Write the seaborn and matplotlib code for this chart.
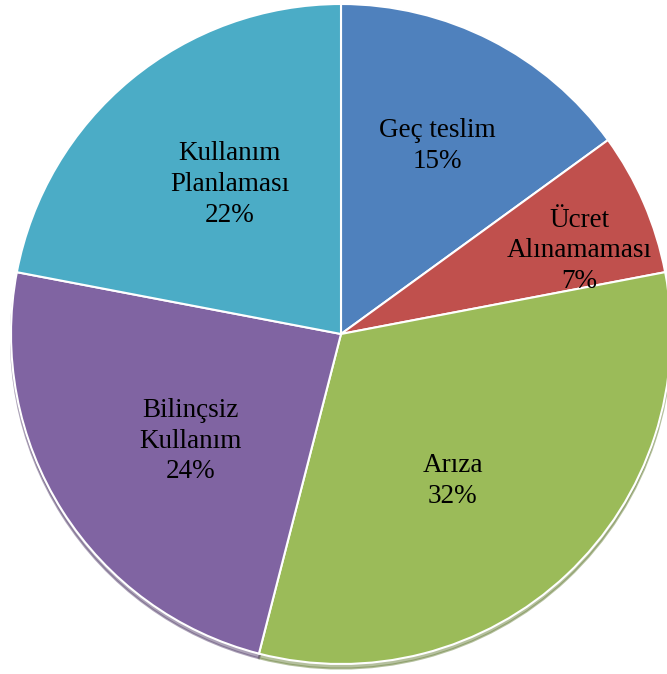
import numpy as np
import matplotlib.pyplot as plt
import seaborn as sns

# Veriler
kategoriler = ['Geç teslim', 'Ücret\nAlınamaması', 'Arıza', 'Bilinçsiz\nKullanım', 'Kullanım\nPlanlaması']
yuzdeler = [15, 7, 32, 24, 22]
renkler = ['#4F81BD', '#C0504D', '#9BBB59', '#8064A2', '#4BACC6']
etiket_uzaklik = [0.64, 0.765, 0.56, 0.56, 0.565]
etiket_aci_kayma = [0, -4.2, -6, 3, -3]

sns.set_style('white')
plt.rcParams['font.family'] = ['Liberation Serif', 'DejaVu Serif']

fig = plt.figure(figsize=(6.67, 6.74), dpi=100)
ax = fig.add_axes([0, 0, 1, 1])

r_px = 330
cx, cy = 341, 334
wedges, _ = ax.pie(yuzdeler, colors=renkler, startangle=90, counterclock=False,
                   radius=1, wedgeprops=dict(edgecolor='white', linewidth=1.5),
                   shadow={'ox': 0.0, 'oy': -0.01, 'shade': 0.3})

for w, lab, p, d, k in zip(wedges, kategoriler, yuzdeler, etiket_uzaklik, etiket_aci_kayma):
    ang = np.deg2rad((w.theta1 + w.theta2) / 2 + k)
    ax.text(d * np.cos(ang), d * np.sin(ang), f'{lab}\n{p}%', ha='center', va='center',
            fontsize=19.5, linespacing=1.3, color='black')

ax.set_xlim(-cx / r_px, (667 - cx) / r_px)
ax.set_ylim(-(674 - cy) / r_px, cy / r_px)
ax.set_aspect('auto')
ax.axis('off')

plt.savefig('out.png', dpi=100)
